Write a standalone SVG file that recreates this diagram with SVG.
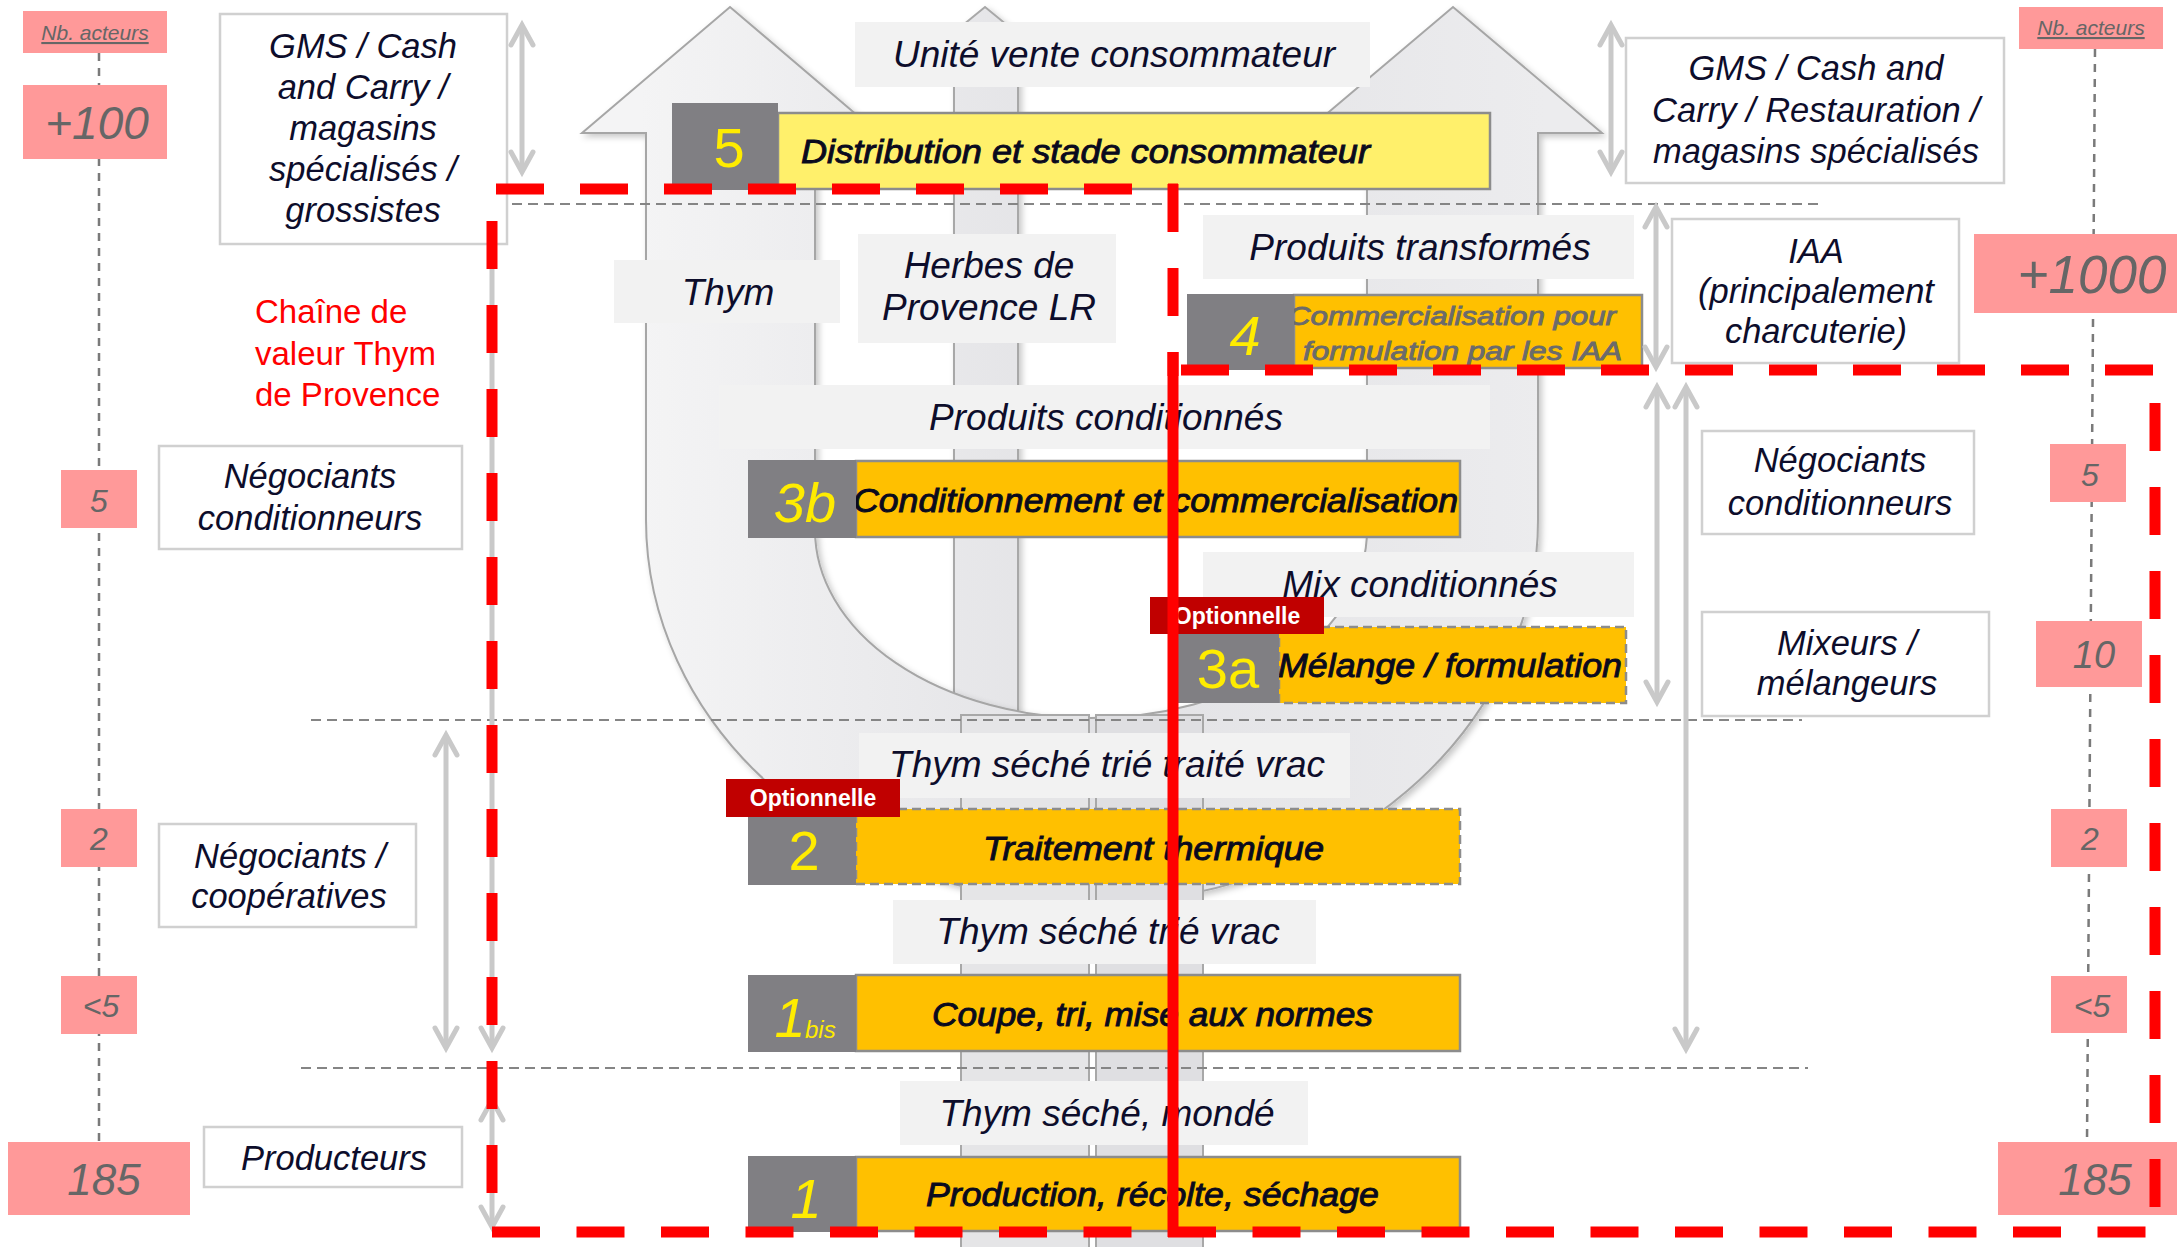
<svg xmlns="http://www.w3.org/2000/svg" width="2177" height="1247" viewBox="0 0 2177 1247">
<defs>
  <linearGradient id="uFill" gradientUnits="userSpaceOnUse" x1="640" y1="0" x2="1545" y2="0">
    <stop offset="0" stop-color="#f4f4f5"/>
    <stop offset="0.5" stop-color="#e2e2e5"/>
    <stop offset="1" stop-color="#ececee"/>
  </linearGradient>
  <filter id="soft" x="-5%" y="-5%" width="112%" height="112%">
    <feDropShadow dx="3" dy="3" stdDeviation="3" flood-color="#000" flood-opacity="0.22"/>
  </filter>
  <marker id="chev" viewBox="-26 -15 34 30" refX="0" refY="0" markerWidth="34" markerHeight="30" markerUnits="userSpaceOnUse" orient="auto-start-reverse" overflow="visible">
    <path d="M -20 -11 L 0 0 L -20 11" fill="none" stroke="#c9c9c9" stroke-width="5" stroke-linecap="round"/>
  </marker>
  <style>
    .sans { font-family: "Liberation Sans", Arial, sans-serif; }
    .lbl { font-family: "Liberation Sans", Arial, sans-serif; font-style: italic; fill: #0d0d2b; text-anchor: middle; }
    .wbt { font-size: 34.5px; }
    .gbt { font-size: 37px; }
    .wb { fill: #ffffff; stroke: #d0d0d0; stroke-width: 2.5; }
    .gb { fill: #f2f2f2; }
    .pk { fill: #ff9999; }
    .num { font-family: "Liberation Sans", Arial, sans-serif; font-style: italic; fill: #666666; text-anchor: middle; }
    .bar { stroke: #8c8c8c; stroke-width: 2.5; }
    .dash { stroke-dasharray: 9 5; }
    .sq { fill: #807f83; }
    .sn { font-family: "Liberation Sans", Arial, sans-serif; fill: #ffec00; text-anchor: middle; font-size: 56px; }
    .sub { font-size: 24px; text-anchor: start; }
    .st { font-family: "Liberation Sans", Arial, sans-serif; font-style: italic; font-weight: normal; fill: #0a0a1e; stroke: #0a0a1e; stroke-width: 0.9px; font-size: 33px; }
    .st4 { fill: #6b6b6b; stroke: #6b6b6b; font-size: 26px; }
    .optr { fill: #c00000; }
    .optt { font-family: "Liberation Sans", Arial, sans-serif; font-weight: bold; fill: #ffffff; font-size: 23px; text-anchor: middle; }
    .ga { stroke: #c9c9c9; stroke-width: 5; fill: none; marker-start: url(#chev); marker-end: url(#chev); }
    .ga1 { stroke: #c9c9c9; stroke-width: 5; fill: none; marker-end: url(#chev); }
    .hd { stroke: #858585; stroke-width: 2; stroke-dasharray: 10 6; fill: none; }
    .vd { stroke: #7a7a7a; stroke-width: 2.5; stroke-dasharray: 8 7; fill: none; }
    .rd { stroke: #ff0000; stroke-width: 11; stroke-dasharray: 48 36; fill: none; }
  </style>
</defs>

<rect x="0" y="0" width="2177" height="1247" fill="#ffffff"/>

<!-- actor-count axes -->
<g id="axis-left">
  <line class="vd" x1="99" y1="53" x2="99" y2="1142"/>
</g>
<g id="axis-right">
  <line class="vd" x1="2095" y1="49" x2="2087" y2="1142"/>
</g>

<!-- background flow shapes -->
<g id="flow-shapes">
  <!-- thin central up arrow -->
  <path d="M 985 7 L 1040 52 L 1018 52 L 1018 720 L 954 720 L 954 52 L 930 52 Z" fill="url(#uFill)" stroke="#a8a8a8" stroke-width="2" filter="url(#soft)"/>
  <!-- U-shaped double up arrow -->
  <path d="M 582 133 L 730 7 L 878 133 L 815 133 L 815 530 A 276 188 0 0 0 1367 530 L 1367 133 L 1304 133 L 1453 7 L 1602 133 L 1538 133 L 1538 520 A 446 383 0 0 1 646 520 L 646 133 Z" fill="url(#uFill)" stroke="#a6a6a6" stroke-width="2" filter="url(#soft)"/>
  <!-- lower trunk -->
  <rect x="961" y="715" width="128" height="540" fill="#e5e5e7" stroke="#a8a8a8" stroke-width="2"/>
  <rect x="1096" y="715" width="107" height="540" fill="#dfdfe2" stroke="#a8a8a8" stroke-width="2"/>
</g>

<!-- stage separators -->
<g id="separators">
  <line class="hd" x1="512" y1="204" x2="1822" y2="204"/>
  <line class="hd" x1="311" y1="720" x2="1802" y2="720"/>
  <line class="hd" x1="301" y1="1068" x2="1808" y2="1068"/>
</g>

<!-- actor counts, left -->
<g id="count-left-title">
  <rect class="pk" x="23" y="11" width="144" height="42"/>
  <text class="num" x="95" y="40" font-size="21" text-decoration="underline">Nb. acteurs</text>
</g>
<g id="count-left-100">
  <rect class="pk" x="23" y="85" width="144" height="74"/>
  <text class="num" x="97" y="139" font-size="46">+100</text>
</g>
<g id="count-left-5">
  <rect class="pk" x="61" y="470" width="76" height="58"/>
  <text class="num" x="99" y="512" font-size="32">5</text>
</g>
<g id="count-left-2">
  <rect class="pk" x="61" y="809" width="76" height="58"/>
  <text class="num" x="99" y="850" font-size="32">2</text>
</g>
<g id="count-left-lt5">
  <rect class="pk" x="61" y="976" width="76" height="58"/>
  <text class="num" x="101" y="1017" font-size="32">&lt;5</text>
</g>
<g id="count-left-185">
  <rect class="pk" x="8" y="1142" width="182" height="73"/>
  <text class="num" x="104" y="1195" font-size="44">185</text>
</g>

<!-- actor counts, right -->
<g id="count-right-title">
  <rect class="pk" x="2019" y="7" width="144" height="42"/>
  <text class="num" x="2091" y="35" font-size="21" text-decoration="underline">Nb. acteurs</text>
</g>
<g id="count-right-1000">
  <rect class="pk" x="1974" y="234" width="203" height="79"/>
  <text class="num" x="2092" y="293" font-size="53">+1000</text>
</g>
<g id="count-right-5">
  <rect class="pk" x="2050" y="444" width="76" height="58"/>
  <text class="num" x="2090" y="486" font-size="32">5</text>
</g>
<g id="count-right-10">
  <rect class="pk" x="2036" y="621" width="106" height="66"/>
  <text class="num" x="2094" y="668" font-size="38">10</text>
</g>
<g id="count-right-2">
  <rect class="pk" x="2051" y="809" width="76" height="58"/>
  <text class="num" x="2090" y="850" font-size="32">2</text>
</g>
<g id="count-right-lt5">
  <rect class="pk" x="2051" y="976" width="76" height="57"/>
  <text class="num" x="2092" y="1017" font-size="32">&lt;5</text>
</g>
<g id="count-right-185">
  <rect class="pk" x="1998" y="1142" width="179" height="73"/>
  <text class="num" x="2095" y="1195" font-size="44">185</text>
</g>

<!-- actors, left -->
<g id="actor-gms-left">
  <rect class="wb" x="220" y="14" width="287" height="230"/>
  <text class="lbl wbt" x="363" y="58">GMS / Cash</text>
  <text class="lbl wbt" x="363" y="99">and Carry /</text>
  <text class="lbl wbt" x="363" y="140">magasins</text>
  <text class="lbl wbt" x="363" y="181">spécialisés /</text>
  <text class="lbl wbt" x="363" y="222">grossistes</text>
</g>
<g id="chain-title">
  <text class="sans" x="255" y="323" font-size="33" fill="#ff0000">Chaîne de</text>
  <text class="sans" x="255" y="365" font-size="33" fill="#ff0000">valeur Thym</text>
  <text class="sans" x="255" y="406" font-size="33" fill="#ff0000">de Provence</text>
</g>
<g id="actor-negociants-left">
  <rect class="wb" x="159" y="446" width="303" height="103"/>
  <text class="lbl wbt" x="310" y="488">Négociants</text>
  <text class="lbl wbt" x="310" y="530">conditionneurs</text>
</g>
<g id="actor-cooperatives">
  <rect class="wb" x="159" y="824" width="257" height="103"/>
  <text class="lbl wbt" x="290" y="868">Négociants /</text>
  <text class="lbl wbt" x="289" y="908">coopératives</text>
</g>
<g id="actor-producteurs">
  <rect class="wb" x="204" y="1127" width="258" height="60"/>
  <text class="lbl wbt" x="334" y="1170">Producteurs</text>
</g>

<!-- actors, right -->
<g id="actor-gms-right">
  <rect class="wb" x="1626" y="38" width="378" height="145"/>
  <text class="lbl wbt" x="1816" y="80">GMS / Cash and</text>
  <text class="lbl wbt" x="1816" y="122">Carry / Restauration /</text>
  <text class="lbl wbt" x="1816" y="163">magasins spécialisés</text>
</g>
<g id="actor-iaa">
  <rect class="wb" x="1672" y="219" width="287" height="144"/>
  <text class="lbl wbt" x="1816" y="263">IAA</text>
  <text class="lbl wbt" x="1816" y="303">(principalement</text>
  <text class="lbl wbt" x="1816" y="343">charcuterie)</text>
</g>
<g id="actor-negociants-right">
  <rect class="wb" x="1702" y="431" width="272" height="103"/>
  <text class="lbl wbt" x="1840" y="472">Négociants</text>
  <text class="lbl wbt" x="1840" y="515">conditionneurs</text>
</g>
<g id="actor-mixeurs">
  <rect class="wb" x="1702" y="612" width="287" height="104"/>
  <text class="lbl wbt" x="1847" y="655">Mixeurs /</text>
  <text class="lbl wbt" x="1847" y="695">mélangeurs</text>
</g>

<!-- products -->
<g id="prod-unite">
  <rect class="gb" x="855" y="22" width="515" height="65"/>
  <text class="lbl gbt" x="1114" y="67">Unité vente consommateur</text>
</g>
<g id="prod-thym">
  <rect class="gb" x="614" y="260" width="226" height="63"/>
  <text class="lbl gbt" x="728" y="305">Thym</text>
</g>
<g id="prod-herbes">
  <rect class="gb" x="858" y="234" width="258" height="109"/>
  <text class="lbl gbt" x="989" y="278">Herbes de</text>
  <text class="lbl gbt" x="989" y="320">Provence LR</text>
</g>
<g id="prod-transformes">
  <rect class="gb" x="1203" y="215" width="431" height="64"/>
  <text class="lbl gbt" x="1420" y="260">Produits transformés</text>
</g>
<g id="prod-conditionnes">
  <rect class="gb" x="719" y="385" width="771" height="64"/>
  <text class="lbl gbt" x="1106" y="430">Produits conditionnés</text>
</g>
<g id="prod-mix">
  <rect class="gb" x="1203" y="552" width="431" height="65"/>
  <text class="lbl gbt" x="1420" y="597">Mix conditionnés</text>
</g>
<g id="prod-traite">
  <rect class="gb" x="859" y="733" width="491" height="65"/>
  <text class="lbl gbt" x="1107" y="777">Thym séché trié traité vrac</text>
</g>
<g id="prod-trie">
  <rect class="gb" x="893" y="900" width="423" height="64"/>
  <text class="lbl gbt" x="1108" y="944">Thym séché trié vrac</text>
</g>
<g id="prod-monde">
  <rect class="gb" x="900" y="1081" width="408" height="64"/>
  <text class="lbl gbt" x="1107" y="1126">Thym séché, mondé</text>
</g>

<!-- process steps -->
<g id="step-5">
  <rect class="bar" x="778" y="113" width="712" height="76" fill="#fff06b"/>
  <text class="st" x="801" y="163" textLength="569" lengthAdjust="spacingAndGlyphs">Distribution et stade consommateur</text>
  <rect class="sq" x="672" y="103" width="106" height="87"/>
  <text class="sn" x="729" y="167">5</text>
</g>
<g id="step-4">
  <rect class="bar" x="1294" y="295" width="348" height="73" fill="#ffc000"/>
  <text class="st st4" x="1288" y="325" textLength="328" lengthAdjust="spacingAndGlyphs">Commercialisation pour</text>
  <text class="st st4" x="1303" y="360" textLength="319" lengthAdjust="spacingAndGlyphs">formulation par les IAA</text>
  <rect class="sq" x="1187" y="294" width="107" height="76"/>
  <text class="sn" x="1245" y="355" font-style="italic">4</text>
</g>
<g id="step-3b">
  <rect class="bar" x="856" y="461" width="604" height="76" fill="#ffc000"/>
  <text class="st" x="853" y="512" textLength="605" lengthAdjust="spacingAndGlyphs">Conditionnement et commercialisation</text>
  <rect class="sq" x="748" y="460" width="108" height="78"/>
  <text class="sn" x="805" y="522" font-style="italic">3b</text>
</g>
<g id="step-3a">
  <rect class="bar dash" x="1279" y="627" width="347" height="76" fill="#ffc000"/>
  <text class="st" x="1278" y="677" textLength="344" lengthAdjust="spacingAndGlyphs">Mélange / formulation</text>
  <rect class="sq" x="1171" y="626" width="108" height="77"/>
  <text class="sn" x="1228" y="688">3a</text>
  <rect class="optr" x="1150" y="597" width="174" height="37"/>
  <text class="optt" x="1237" y="624">Optionnelle</text>
</g>
<g id="step-2">
  <rect class="bar dash" x="856" y="809" width="604" height="75" fill="#ffc000"/>
  <text class="st" x="983" y="860" textLength="341" lengthAdjust="spacingAndGlyphs">Traitement thermique</text>
  <rect class="sq" x="748" y="809" width="108" height="76"/>
  <text class="sn" x="804" y="870">2</text>
  <rect class="optr" x="726" y="779" width="174" height="38"/>
  <text class="optt" x="813" y="806">Optionnelle</text>
</g>
<g id="step-1bis">
  <rect class="bar" x="856" y="975" width="604" height="76" fill="#ffc000"/>
  <text class="st" x="932" y="1026" textLength="441" lengthAdjust="spacingAndGlyphs">Coupe, tri, mise aux normes</text>
  <rect class="sq" x="748" y="975" width="108" height="77"/>
  <text class="sn" x="790" y="1037" font-style="italic">1</text>
  <text class="sn sub" x="805" y="1038" font-style="italic">bis</text>
</g>
<g id="step-1">
  <rect class="bar" x="856" y="1157" width="604" height="74" fill="#ffc000"/>
  <text class="st" x="926" y="1206" textLength="453" lengthAdjust="spacingAndGlyphs">Production, récolte, séchage</text>
  <rect class="sq" x="748" y="1156" width="108" height="76"/>
  <text class="sn" x="806" y="1218" font-style="italic">1</text>
</g>

<!-- connectors -->
<g id="connectors">
  <line class="ga" x1="522" y1="25" x2="522" y2="172"/>
  <line class="ga" x1="446" y1="735" x2="446" y2="1048"/>
  <line class="ga1" x1="492" y1="222" x2="492" y2="1048"/>
  <line class="ga" x1="492" y1="1100" x2="492" y2="1227"/>
  <line class="ga" x1="1611" y1="25" x2="1611" y2="172"/>
  <line class="ga" x1="1656" y1="207" x2="1656" y2="367"/>
  <line class="ga" x1="1657" y1="387" x2="1657" y2="702"/>
  <line class="ga" x1="1686" y1="387" x2="1686" y2="1049"/>
</g>

<!-- value chain perimeter -->
<g id="perimeter">
  <line class="rd" x1="496" y1="189" x2="1178" y2="189"/>
  <line class="rd" x1="1173" y1="184" x2="1173" y2="376"/>
  <line class="rd" x1="1181" y1="370" x2="2153" y2="370"/>
  <line class="rd" x1="2155" y1="403" x2="2155" y2="1207"/>
  <line class="rd" x1="492" y1="1232" x2="2150" y2="1232" style="stroke-dasharray:48 36.5"/>
  <line class="rd" x1="492" y1="221" x2="492" y2="1193"/>
  <line x1="1173" y1="352" x2="1173" y2="1237" stroke="#ff0000" stroke-width="11"/>
</g>
</svg>
